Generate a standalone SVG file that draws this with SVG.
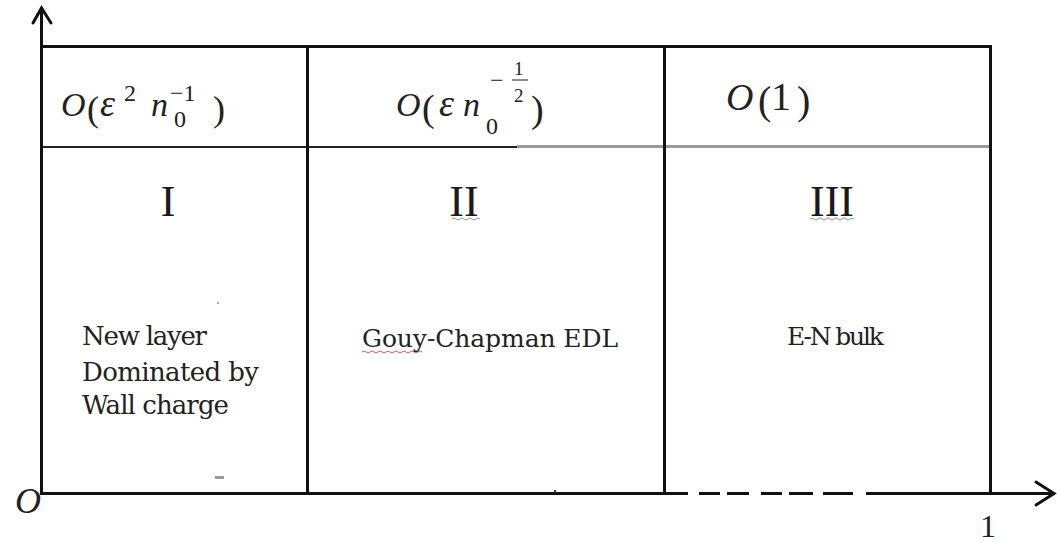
<svg xmlns="http://www.w3.org/2000/svg" width="1057" height="542" viewBox="0 0 1057 542">
<style>
.ln{stroke:#111;stroke-width:3;fill:none;stroke-linecap:butt}
.thin{stroke:#222;stroke-width:2;fill:none}
.grey{stroke:#9a9a9a;stroke-width:3;fill:none}
.arr{stroke:#111;stroke-width:3;fill:none;stroke-linejoin:miter;stroke-linecap:round}
.math{font-family:"Liberation Serif","DejaVu Serif",serif;fill:#222}
.it{font-style:italic}
.num{font-family:"Liberation Serif",serif;font-size:44px;fill:#1a1a1a;text-anchor:middle}
.body{font-family:"DejaVu Serif","Liberation Serif",serif;fill:#222}
.sq{stroke:#8a9a8a;stroke-width:1;fill:none}
.sqr{stroke:#c46060;stroke-width:1;fill:none}
</style>
<rect width="1057" height="542" fill="#fff"/>
<g id="frame">
<path class="ln" d="M42,46.5 H992"/>
<path class="thin" d="M42,147 H517"/>
<path class="grey" d="M517,146.5 H990"/>
<path class="ln" d="M307.5,46 V493"/>
<path class="ln" d="M664.5,46 V493"/>
<path class="ln" d="M990.5,45 V493"/>
</g>
<g id="connectors">
<path class="ln" d="M41.5,495 V9"/>
<polyline class="arr" points="33,23 41.5,8 51,23"/>
<path class="ln" d="M40,493.5 H664 M664,493.5 H688 M699,493.5 H720 M727,493.5 H749 M761,493.5 H782 M789,493.5 H813 M823,493.5 H853 M866,493.5 H1053"/>
<polyline class="arr" points="1036,482 1054,493.5 1036,505"/>
</g>
<g id="axis-labels">
<text class="math it" x="15" y="513" font-size="36">O</text>
<text class="math" x="988" y="537" font-size="32" text-anchor="middle">1</text>
</g>
<g id="region-I">
<text class="math" font-size="34"><tspan class="it" x="61" y="116">O</tspan><tspan x="87" y="121" font-size="36">(</tspan><tspan class="it" x="100" y="116" font-size="38">ε</tspan><tspan x="124" y="101" font-size="24">2</tspan><tspan class="it" x="151" y="116">n</tspan><tspan x="174" y="127" font-size="24">0</tspan><tspan x="170" y="101" font-size="24">−1</tspan><tspan x="213" y="121" font-size="36">)</tspan></text>
<text class="num" x="168" y="216">I</text>
<text class="body" font-size="26"><tspan x="82" y="345" textLength="125">New layer</tspan><tspan x="82" y="381" textLength="177">Dominated by</tspan><tspan x="82" y="414" textLength="147">Wall charge</tspan></text>
<rect x="215" y="476" width="9" height="3" fill="#999"/>
<rect x="217" y="302" width="2" height="2" fill="#aaa"/>
</g>
<g id="region-II">
<text class="math" font-size="34"><tspan class="it" x="396" y="116">O</tspan><tspan x="422" y="121" font-size="38">(</tspan><tspan class="it" x="439" y="116" font-size="38">ε</tspan><tspan class="it" x="463" y="116">n</tspan><tspan x="486" y="134" font-size="24">0</tspan><tspan x="490" y="88" font-size="24">−</tspan><tspan x="514" y="75" font-size="19">1</tspan><tspan x="514" y="102" font-size="19">2</tspan><tspan x="531" y="122" font-size="38">)</tspan></text>
<path d="M512,80 H528" stroke="#666" stroke-width="1.5"/>
<text class="num" x="464" y="216">II</text>
<path class="sq" d="M452,219 q2,-2 4,0 t4,0 t4,0 t4,0 t4,0 t4,0 t4,0"/>
<text class="body" font-size="25" x="362" y="347" textLength="256">Gouy-Chapman EDL</text>
<path class="sqr" d="M362,352 q2,-2 4,0 t4,0 t4,0 t4,0 t4,0 t4,0 t4,0 t4,0 t4,0 t4,0 t4,0 t4,0 t4,0 t4,0 t4,0"/>
<rect x="554" y="490" width="2" height="3" fill="#333"/>
</g>
<g id="region-III">
<text class="math" font-size="40"><tspan class="it" x="726" y="110" font-size="38">O</tspan><tspan x="758" y="114">(</tspan><tspan x="771" y="110">1</tspan><tspan x="797" y="114">)</tspan></text>
<text class="num" x="832" y="216">III</text>
<path class="sq" d="M810,219 q2,-2 4,0 t4,0 t4,0 t4,0 t4,0 t4,0 t4,0 t4,0 t4,0 t4,0 t4,0"/>
<text class="body" font-size="25" x="787" y="345" textLength="97">E-N bulk</text>
</g>
</svg>
